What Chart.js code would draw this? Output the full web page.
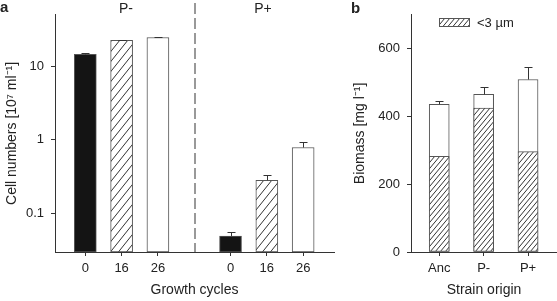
<!DOCTYPE html>
<html><head><meta charset="utf-8">
<script src="https://cdn.jsdelivr.net/npm/chart.js@4"></script>
<style>
html,body{margin:0;padding:0;background:#fff;overflow:hidden}
#wrap{position:relative;width:557px;height:301px;background:#fff}
canvas{position:absolute;top:0}
#ca{left:0}
#cb{left:340px}
</style></head><body>
<div id="wrap"><canvas id="ca" width="345" height="301"></canvas><canvas id="cb" width="217" height="301"></canvas></div>
<script>
// ---- Panel a data ----
const cycleLabels = ['0','16','26','','0','16','26'];
const groupLabels = ['P-','P+'];
const cellsPminus = [14.5, 22.5, 24.6];
const cellsPminusErrTop = [15.0, 23.0, 25.1];
const cellsPplus = [0.0495, 0.282, 0.787];
const cellsPplusErrTop = [0.056, 0.33, 0.95];
const logTicks = [0.1, 1, 10];
// ---- Panel b data ----
const strainLabels = ['Anc','P-','P+'];
const biomassSmall = [282, 425, 296];
const biomassTotal = [436, 465, 509];
const biomassTotalErrTop = [445, 488, 545];
const biomassTicks = [0, 200, 400, 600];
const legendLabel = '<3 µm';

const FONT = '"Liberation Sans", Arial, sans-serif';
Chart.defaults.font.family = FONT;
Chart.defaults.color = '#222';

function hatch(w, h) {
  const c = document.createElement('canvas'); c.width = w; c.height = h;
  const g = c.getContext('2d');
  g.fillStyle = '#fff'; g.fillRect(0, 0, w, h);
  g.strokeStyle = '#333'; g.lineWidth = 1;
  g.beginPath();
  for (const [dx, dy] of [[0,0],[w,0],[-w,0],[0,h],[0,-h]]) {
    g.moveTo(dx, h + dy); g.lineTo(w + dx, dy);
  }
  g.stroke();
  return g.createPattern(c, 'repeat');
}

const errorBars = {
  id: 'errorBars',
  afterDatasetsDraw(chart) {
    const ctx = chart.ctx, ys = chart.scales.y;
    ctx.save();
    ctx.strokeStyle = '#333'; ctx.lineWidth = 1;
    chart.data.datasets.forEach((ds, i) => {
      if (!ds.errTop) return;
      const meta = chart.getDatasetMeta(i);
      meta.data.forEach((el, j) => {
        const yt = Math.round(ys.getPixelForValue(ds.errTop[j])) + 0.5;
        const x = Math.round(el.x) + 0.5;
        ctx.beginPath();
        ctx.moveTo(x, el.y); ctx.lineTo(x, yt);
        ctx.moveTo(x - 4, yt); ctx.lineTo(x + 4, yt);
        ctx.stroke();
      });
    });
    ctx.restore();
  }
};

function fixedAxis(size, horiz) {
  return s => { if (horiz) s.height = size; else s.width = size; };
}

// ---- Panel a ----
const patA = hatch(8, 10);
const fillsA = ['#141414', patA, '#ffffff'];
const dsA = [0, 1, 2].map(k => ({
  data: [{x: k, y: cellsPminus[k]}, {x: k + 4, y: cellsPplus[k]}],
  errTop: [cellsPminusErrTop[k], cellsPplusErrTop[k]],
  backgroundColor: fillsA[k],
  borderColor: '#555', borderWidth: 1, borderSkipped: false,
  grouped: false, barThickness: 22
}));

const annotA = {
  id: 'annotA',
  afterDraw(chart) {
    const ctx = chart.ctx, xs = chart.scales.x, ca = chart.chartArea;
    ctx.save();
    const xd = Math.round(xs.getPixelForValue(3)) + 1;
    ctx.strokeStyle = '#999'; ctx.lineWidth = 2; ctx.setLineDash([11, 4]);
    ctx.beginPath(); ctx.moveTo(xd, 3); ctx.lineTo(xd, ca.bottom); ctx.stroke();
    ctx.setLineDash([]);
    ctx.fillStyle = '#222'; ctx.textAlign = 'center'; ctx.textBaseline = 'middle';
    ctx.font = '14px ' + FONT;
    ctx.fillText(groupLabels[0], 126, 9);
    ctx.fillText(groupLabels[1], 263, 9);
    ctx.font = 'bold 15px ' + FONT; ctx.textAlign = 'left';
    ctx.fillText('a', 0, 8);
    ctx.restore();
  }
};

new Chart(document.getElementById('ca'), {
  type: 'bar',
  data: { datasets: dsA },
  plugins: [errorBars, annotA],
  options: {
    responsive: false, animation: false,
    layout: { autoPadding: false, padding: { left: 0, right: 11, top: 12, bottom: 0 } },
    plugins: { legend: { display: false }, tooltip: { enabled: false } },
    scales: {
      x: {
        type: 'linear', offset: false, min: -0.835, max: 6.85, bounds: 'data',
        afterBuildTicks: s => { s.ticks = [0,1,2,4,5,6].map(v => ({ value: v })); },
        ticks: { callback: v => cycleLabels[v], font: { size: 13 }, padding: 5, color: '#222', autoSkip: false, maxRotation: 0 },
        grid: { offset: false, drawOnChartArea: false, tickLength: 4, color: '#333' },
        border: { color: '#333' },
        title: { display: true, text: 'Growth cycles', font: { size: 14 }, color: '#222', padding: { top: 0, bottom: 2 } },
        afterFit: fixedAxis(49, true)
      },
      y: {
        type: 'logarithmic', min: 0.03, max: 50, bounds: 'data',
        afterBuildTicks: s => { s.ticks = logTicks.map(v => ({ value: v })); },
        ticks: { callback: v => String(v), font: { size: 13 }, padding: 7, color: '#222' },
        grid: { drawOnChartArea: false, tickLength: 4, color: '#333' },
        border: { color: '#333' },
        title: { display: true, text: 'Cell numbers [10⁷ ml⁻¹]', font: { size: 14 }, color: '#222', padding: { top: 4, bottom: 0 } },
        afterFit: fixedAxis(55, false)
      }
    }
  }
});

// ---- Panel b ----
const patB = hatch(5, 6);
const dsB = [
  {
    data: biomassSmall.map((v, i) => ({ x: i, y: v })),
    backgroundColor: patB, borderColor: '#555', borderWidth: 1, borderSkipped: false,
    grouped: false, barThickness: 20
  },
  {
    data: biomassTotal.map((v, i) => ({ x: i, y: v })),
    errTop: biomassTotalErrTop,
    backgroundColor: '#ffffff', borderColor: '#555', borderWidth: 1, borderSkipped: false,
    grouped: false, barThickness: 20
  }
];

const annotB = {
  id: 'annotB',
  afterDraw(chart) {
    const ctx = chart.ctx;
    ctx.save();
    ctx.fillStyle = patB; ctx.fillRect(99.5, 18.5, 30, 8);
    ctx.strokeStyle = '#555'; ctx.lineWidth = 1; ctx.strokeRect(99.5, 18.5, 30, 8);
    ctx.fillStyle = '#222'; ctx.textBaseline = 'middle'; ctx.textAlign = 'left';
    ctx.font = '13px ' + FONT;
    ctx.fillText(legendLabel, 137, 23);
    ctx.font = 'bold 15px ' + FONT;
    ctx.fillText('b', 11, 9);
    ctx.restore();
  }
};

new Chart(document.getElementById('cb'), {
  type: 'bar',
  data: { datasets: dsB },
  plugins: [errorBars, annotB],
  options: {
    responsive: false, animation: false,
    layout: { autoPadding: false, padding: { left: 0, right: 0, top: 12, bottom: 0 } },
    plugins: { legend: { display: false }, tooltip: { enabled: false } },
    scales: {
      x: {
        type: 'linear', offset: false, min: -0.636, max: 2.652, bounds: 'data',
        afterBuildTicks: s => { s.ticks = strainLabels.map((_, i) => ({ value: i })); },
        ticks: { callback: v => strainLabels[v], font: { size: 13 }, padding: 5, color: '#222', autoSkip: false, maxRotation: 0 },
        grid: { offset: false, drawOnChartArea: false, tickLength: 4, color: '#333' },
        border: { color: '#333' },
        title: { display: true, text: 'Strain origin', font: { size: 14 }, color: '#222', padding: { top: 0, bottom: 2 } },
        afterFit: fixedAxis(49, true)
      },
      y: {
        type: 'linear', min: 0, max: 700, bounds: 'data',
        afterBuildTicks: s => { s.ticks = biomassTicks.map(v => ({ value: v })); },
        ticks: { callback: v => String(v), font: { size: 13 }, padding: 7, color: '#222' },
        grid: { drawOnChartArea: false, tickLength: 4, color: '#333' },
        border: { color: '#333' },
        title: { display: true, text: 'Biomass [mg l⁻¹]', font: { size: 14 }, color: '#222', padding: { top: 12, bottom: 0 } },
        afterFit: fixedAxis(71, false)
      }
    }
  }
});
</script>
</body></html>
